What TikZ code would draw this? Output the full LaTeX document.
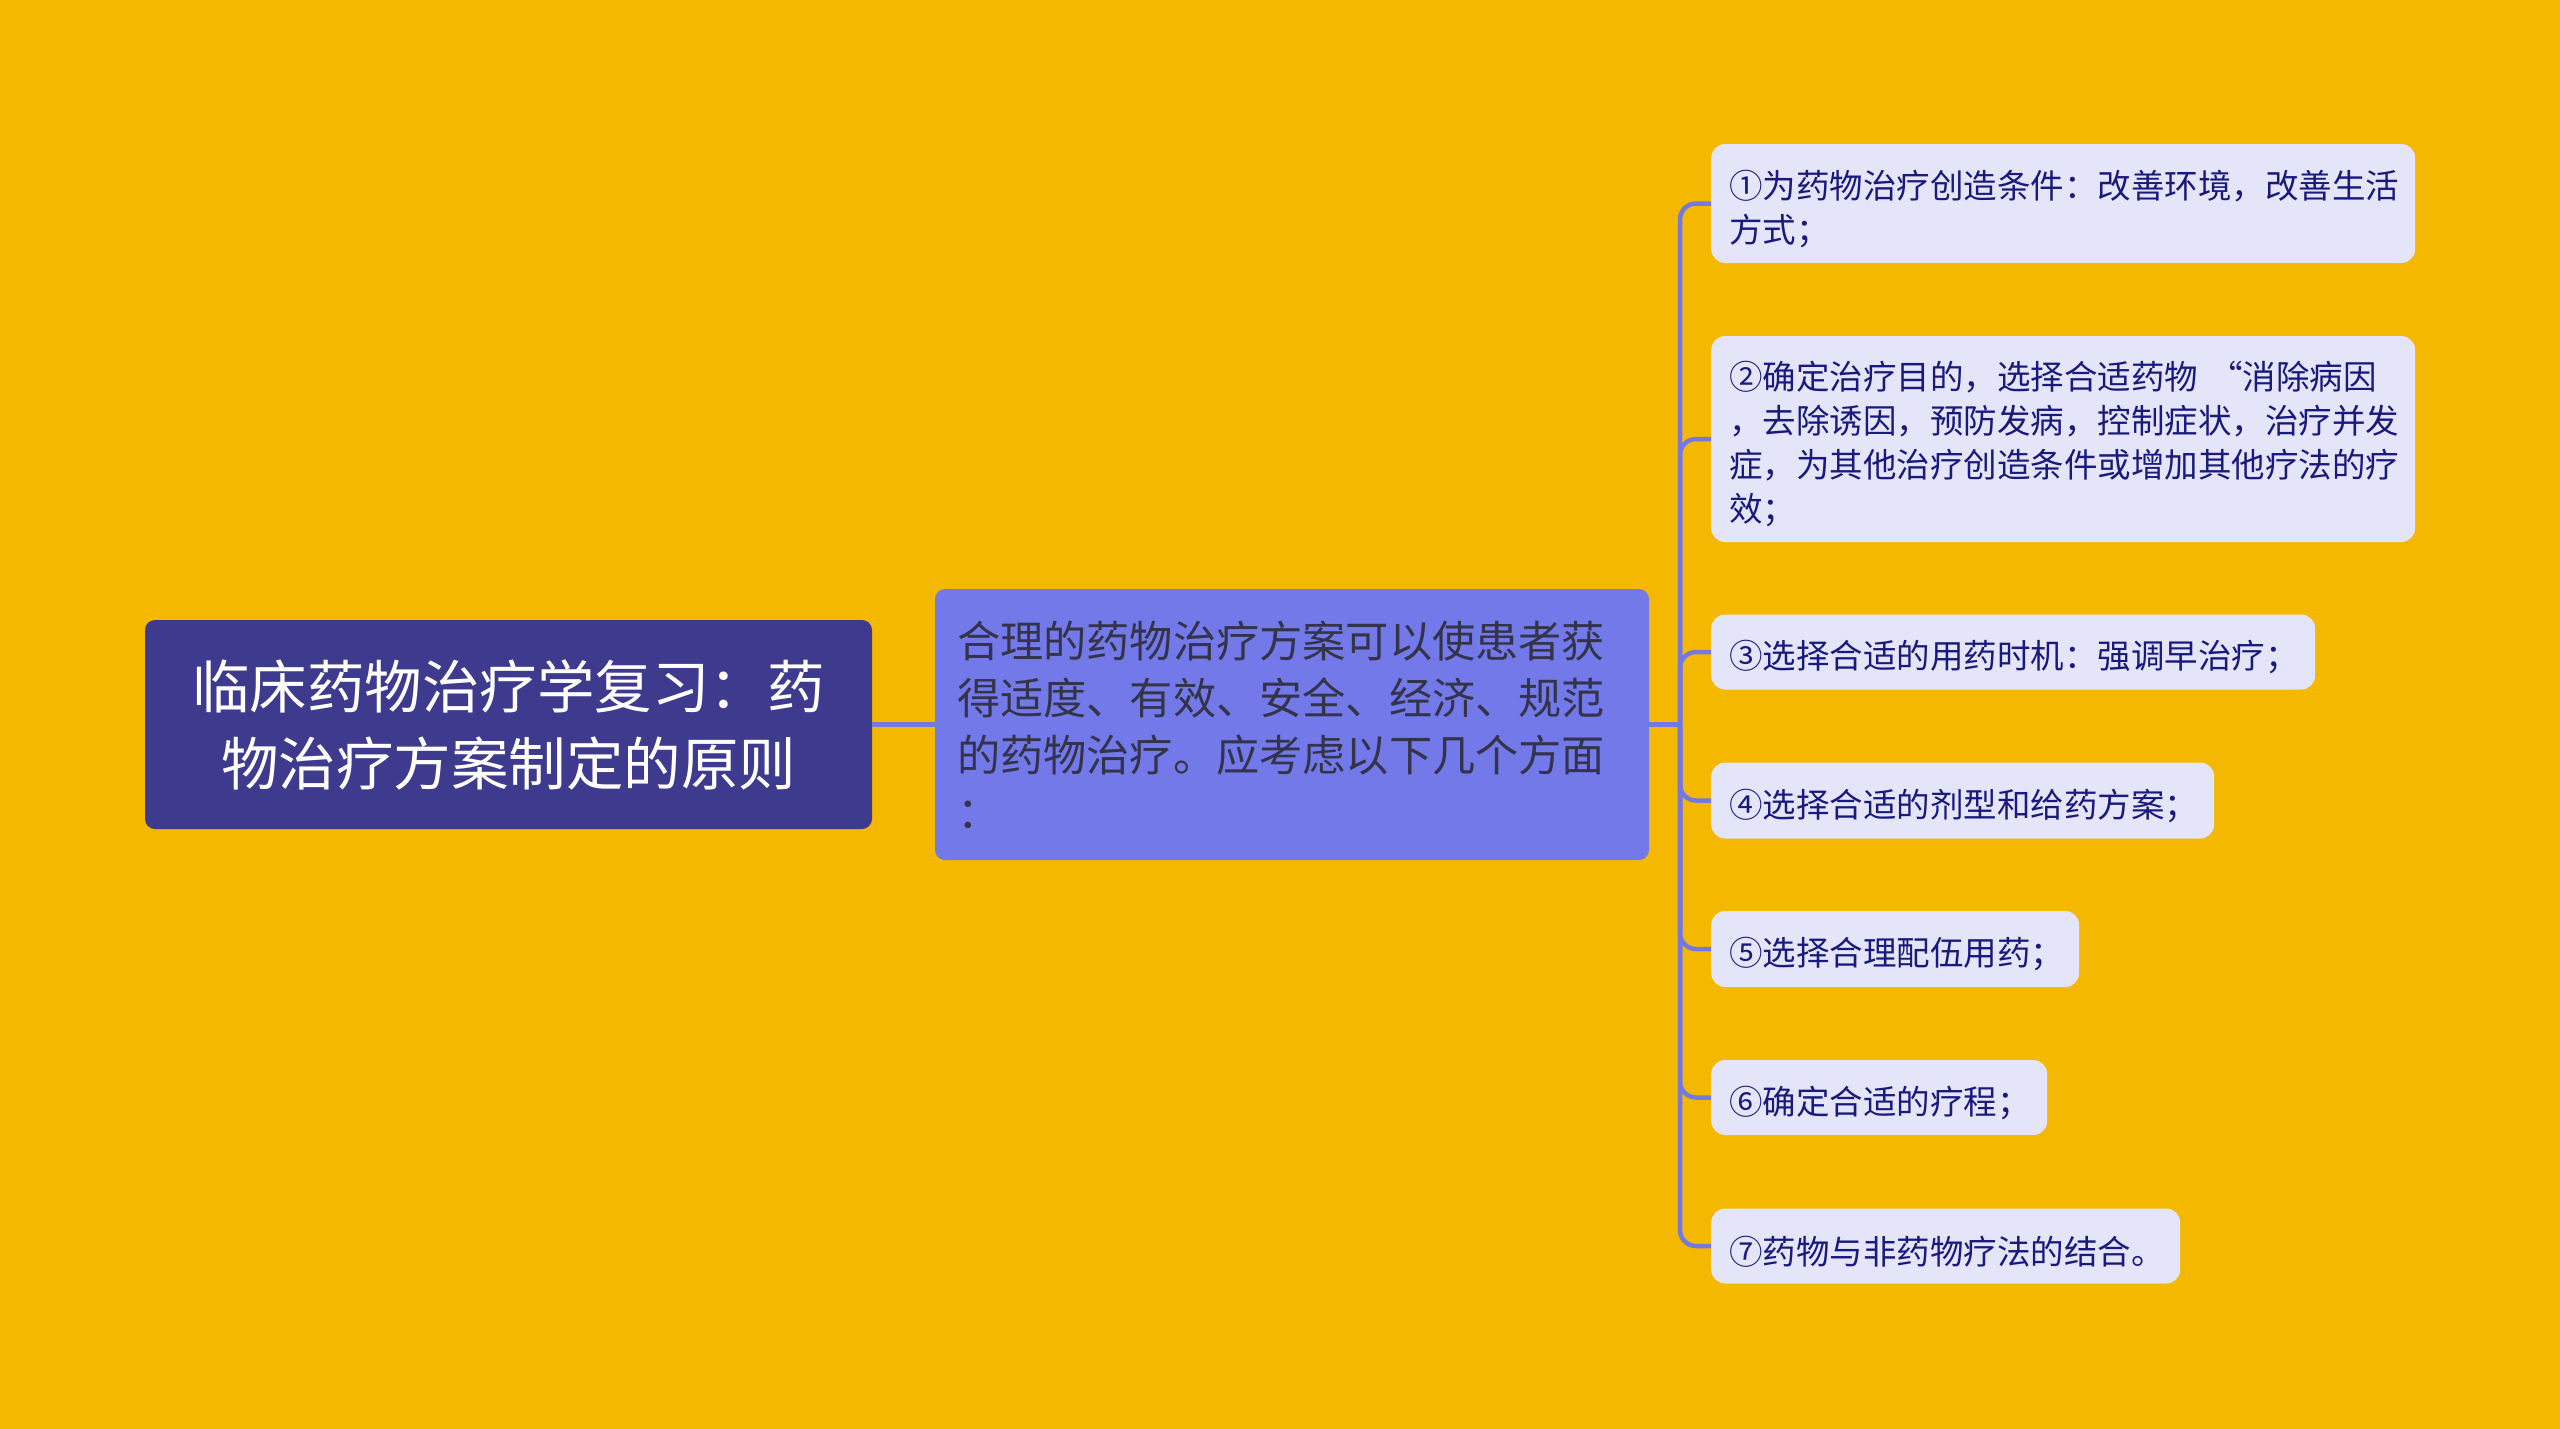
\documentclass[tikz,border=0pt]{standalone}
\usepackage{fontspec}
\setmainfont{Noto Sans CJK SC}
\definecolor{bg}{HTML}{F5B800}
\definecolor{rootfill}{HTML}{3E3A8D}
\definecolor{midfill}{HTML}{7479E9}
\definecolor{leaffill}{HTML}{E4E5F8}
\definecolor{leaftext}{HTML}{1A1A7E}
\definecolor{midtext}{HTML}{33334A}
\definecolor{linec}{HTML}{7479E0}
\begin{document}
\begin{tikzpicture}[x=1pt,y=1pt,
 rootbox/.style={fill=rootfill, text=white, rounded corners=10pt, align=center, minimum width=727pt, minimum height=209pt, font=\fontsize{57.5}{77}\selectfont, inner sep=0pt},
 midbox/.style={fill=midfill, text=midtext, rounded corners=10pt, align=left, text width=670pt, inner xsep=22pt, inner ysep=0pt, minimum height=271pt, font=\fontsize{43.2}{57}\selectfont},
 leafbox/.style={fill=leaffill, text=leaftext, rounded corners=14pt, align=left, inner xsep=18pt, inner ysep=0pt, anchor=west, font=\fontsize{33.5}{44}\selectfont},
 conn/.style={draw=linec, line width=4.5pt},
 branch/.style={conn, rounded corners=16pt}]
\useasboundingbox (0,0) rectangle (2560,-1429);
\fill[bg] (0,0) rectangle (2560,-1429);

\newcommand\topstrut{\rule{0pt}{39pt}}
\node[rootbox] (root) at (508.5,-724.5) {临床药物治疗学复习：药\\物治疗方案制定的原则};
\node[midbox] (mid) at (1292,-724.5) {合理的药物治疗方案可以使患者获\\得适度、有效、安全、经济、规范\\的药物治疗。应考虑以下几个方面\\：};

\node[leafbox, text width=668pt, minimum height=119pt] (l1) at (1711,-203.5) {\topstrut①为药物治疗创造条件：改善环境，改善生活\\方式；};
\node[leafbox, text width=668pt, minimum height=206pt] (l2) at (1711,-439) {\topstrut②确定治疗目的，选择合适药物 “消除病因\\，去除诱因，预防发病，控制症状，治疗并发\\症，为其他治疗创造条件或增加其他疗法的疗\\效；};
\node[leafbox, text width=568pt, minimum height=75pt] (l3) at (1711,-652) {\topstrut③选择合适的用药时机：强调早治疗；};
\node[leafbox, text width=467pt, minimum height=76pt] (l4) at (1711,-800.5) {\topstrut④选择合适的剂型和给药方案；};
\node[leafbox, text width=332pt, minimum height=76pt] (l5) at (1711,-949) {\topstrut⑤选择合理配伍用药；};
\node[leafbox, text width=300pt, minimum height=75pt] (l6) at (1711,-1097.5) {\topstrut⑥确定合适的疗程；};
\node[leafbox, text width=433pt, minimum height=75pt] (l7) at (1711,-1246) {\topstrut⑦药物与非药物疗法的结合。};

\draw[conn] (root.east) -- (mid.west);
\coordinate (trunk) at (1680,-724.5);
\draw[conn] (mid.east) -- (trunk);
\foreach \n in {l1,l2,l3,l4,l5,l6,l7}{
  \draw[branch] (trunk) |- (\n.west);
}
\end{tikzpicture}
\end{document}
